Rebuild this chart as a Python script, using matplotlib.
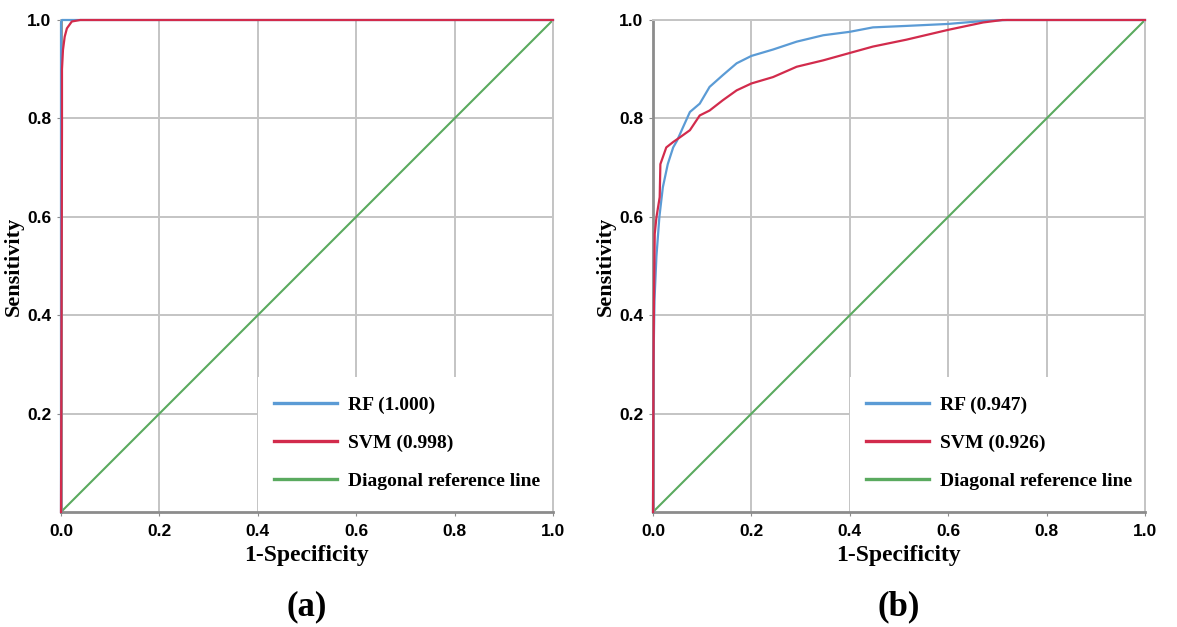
import matplotlib.pyplot as plt
from matplotlib.patches import Rectangle

# panel (a)
rf_a_fpr = [0, 0, 0.002, 1.0]
rf_a_tpr = [0, 0.995, 1.0, 1.0]
svm_a_fpr = [0, 0.002, 0.002, 0.004, 0.0075, 0.012, 0.022, 0.039, 1.0]
svm_a_tpr = [0, 0.78, 0.90, 0.939, 0.966, 0.983, 0.997, 1.0, 1.0]

# panel (b)
rf_b_fpr = [0, 0.001, 0.003, 0.007, 0.013, 0.020, 0.030, 0.041, 0.049, 0.061, 0.075,
            0.095, 0.115, 0.142, 0.170, 0.200, 0.244, 0.292, 0.346, 0.400, 0.447,
            0.515, 0.600, 0.671, 0.72, 1.0]
rf_b_tpr = [0, 0.30, 0.43, 0.52, 0.60, 0.66, 0.707, 0.741, 0.755, 0.782, 0.813,
            0.830, 0.864, 0.888, 0.912, 0.927, 0.940, 0.956, 0.969, 0.976, 0.985,
            0.988, 0.992, 0.998, 1.0, 1.0]
svm_b_fpr = [0, 0.001, 0.002, 0.0035, 0.007, 0.0136, 0.015, 0.027, 0.041, 0.054, 0.075,
             0.095, 0.115, 0.142, 0.170, 0.200, 0.244, 0.292, 0.346, 0.400, 0.447,
             0.515, 0.600, 0.671, 0.71, 1.0]
svm_b_tpr = [0, 0.30, 0.43, 0.565, 0.599, 0.64, 0.707, 0.741, 0.752, 0.761, 0.776,
             0.806, 0.816, 0.837, 0.857, 0.871, 0.884, 0.905, 0.918, 0.933, 0.946,
             0.960, 0.980, 0.995, 1.0, 1.0]

diag = [0, 1]
x_ticks = [0.0, 0.2, 0.4, 0.6, 0.8, 1.0]
y_ticks = [0.2, 0.4, 0.6, 0.8, 1.0]

panels = [
    ("(a)", rf_a_fpr, rf_a_tpr, svm_a_fpr, svm_a_tpr, "RF (1.000)", "SVM (0.998)"),
    ("(b)", rf_b_fpr, rf_b_tpr, svm_b_fpr, svm_b_tpr, "RF (0.947)", "SVM (0.926)"),
]

BLUE = '#5b9bd5'
RED = '#d22b4c'
GREEN = '#5aaa5f'
serif = 'Liberation Serif'
sans = 'Liberation Sans'

fig = plt.figure(figsize=(11.77, 6.27), dpi=100)
lefts = [61 / 1177, 653 / 1177]

for left, (tag, rfx, rfy, svx, svy, rf_lab, sv_lab) in zip(lefts, panels):
    ax = fig.add_axes([left, 1 - 512 / 627, 492 / 1177, 492 / 627])
    ax.set_xlim(0, 1)
    ax.set_ylim(0, 1)
    ax.set_axisbelow(True)
    ax.grid(True, color='#c4c4c4', linewidth=1.4)

    # white box behind the legend
    ax.add_patch(Rectangle((0.4, 0), 0.6, 0.275, transform=ax.transAxes,
                           facecolor='white', edgecolor='none', zorder=1))

    ax.plot(diag, diag, color=GREEN, linewidth=1.5, label='Diagonal reference line', zorder=2)
    ax.plot(rfx, rfy, color=BLUE, linewidth=1.6, label=rf_lab, clip_on=False, zorder=3)
    ax.plot(svx, svy, color=RED, linewidth=1.6, label=sv_lab, clip_on=False, zorder=4)

    for s in ['top', 'right']:
        ax.spines[s].set_color('#c4c4c4')
        ax.spines[s].set_linewidth(1.4)
    for s in ['left', 'bottom']:
        ax.spines[s].set_color('#8c8c8c')
        ax.spines[s].set_linewidth(2)

    ax.set_xticks(x_ticks)
    ax.set_yticks(y_ticks)
    ax.set_xticklabels([f"{v:.1f}" for v in x_ticks], fontfamily=sans, fontweight='bold', fontsize=12.5)
    ax.set_yticklabels([f"{v:.1f}" for v in y_ticks], fontfamily=sans, fontweight='bold', fontsize=12.5)
    ax.tick_params(length=3, color='#8c8c8c', pad=4)
    ax.tick_params(axis='x', pad=6)

    ax.set_xlabel("1-Specificity", fontfamily=serif, fontweight='bold', fontsize=17, labelpad=4)
    ax.set_ylabel("Sensitivity", fontfamily=serif, fontweight='bold', fontsize=16, labelpad=2)

    handles, labels = ax.get_legend_handles_labels()
    order = [1, 2, 0]
    leg = ax.legend([handles[i] for i in order], [labels[i] for i in order],
                    loc='center left', bbox_to_anchor=(0.398, 0.14), frameon=False,
                    prop={'family': serif, 'weight': 'bold', 'size': 14},
                    handlelength=3.2, handletextpad=0.6, labelspacing=1.05)
    for line in leg.get_lines():
        line.set_linewidth(2.4)

    ax.text(0.5, -0.16, tag, transform=ax.transAxes, ha='center', va='top',
            fontfamily=serif, fontweight='bold', fontsize=25)

fig.savefig('out.png', dpi=100)
